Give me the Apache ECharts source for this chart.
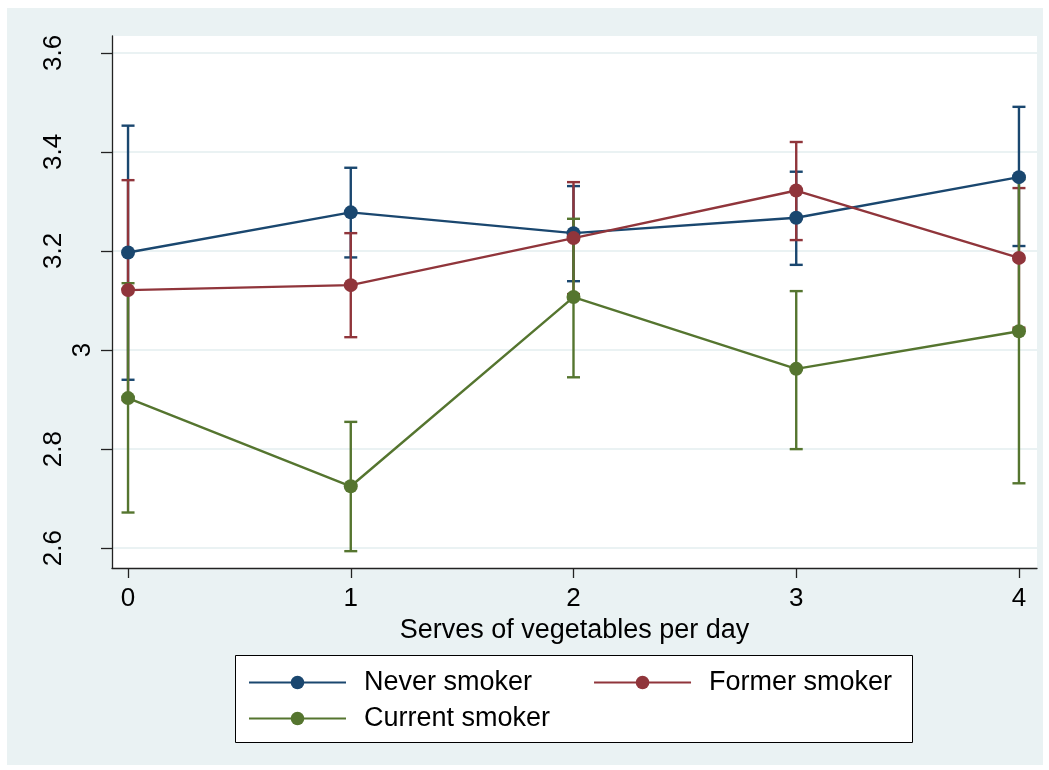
<!DOCTYPE html>
<html>
<head>
<meta charset="utf-8">
<script src="https://cdn.jsdelivr.net/npm/echarts@6/dist/echarts.min.js"></script>
<style>
  html, body { margin: 0; padding: 0; background: #ffffff; }
  #chart { width: 1049px; height: 770px; }
</style>
</head>
<body>
<div id="chart"></div>
<script>
// Serves of vegetables per day
const servings = [0, 1, 2, 3, 4];
const yTicks = [2.6, 2.8, 3.0, 3.2, 3.4, 3.6];

// Never smoker: mean and 95% CI
const neverMean = [3.197, 3.278, 3.236, 3.267, 3.349];
const neverLow  = [2.940, 3.187, 3.139, 3.172, 3.210];
const neverHigh = [3.453, 3.368, 3.331, 3.360, 3.491];

// Former smoker
const formerMean = [3.121, 3.131, 3.226, 3.322, 3.186];
const formerLow  = [2.899, 3.026, 3.113, 3.222, 3.045];
const formerHigh = [3.343, 3.236, 3.339, 3.420, 3.327];

// Current smoker
const currentMean = [2.903, 2.725, 3.107, 2.962, 3.038];
const currentLow  = [2.672, 2.594, 2.945, 2.800, 2.731];
const currentHigh = [3.135, 2.855, 3.265, 3.119, 3.345];

const groups = [
  { name: 'Never smoker',   color: '#1a476f', mean: neverMean,   low: neverLow,   high: neverHigh },
  { name: 'Former smoker',  color: '#90353b', mean: formerMean,  low: formerLow,  high: formerHigh },
  { name: 'Current smoker', color: '#55752f', mean: currentMean, low: currentLow, high: currentHigh }
];

const FONT = 'Liberation Sans, Arial, sans-serif';
const CAP = 6.5;
const LW = 2.4;

function capRenderer(color) {
  return function (params, api) {
    const x = api.value(0);
    const lo = api.coord([x, api.value(1)]);
    const hi = api.coord([x, api.value(2)]);
    const style = { stroke: color, lineWidth: LW, fill: null };
    return {
      type: 'group',
      children: [
        { type: 'line', shape: { x1: lo[0], y1: lo[1], x2: hi[0], y2: hi[1] }, style },
        { type: 'line', shape: { x1: lo[0] - CAP, y1: lo[1], x2: lo[0] + CAP, y2: lo[1] }, style },
        { type: 'line', shape: { x1: hi[0] - CAP, y1: hi[1], x2: hi[0] + CAP, y2: hi[1] }, style }
      ]
    };
  };
}

const capSeries = groups.map(g => ({
  type: 'custom',
  name: g.name + ' CI',
  renderItem: capRenderer(g.color),
  data: servings.map((x, i) => [x, g.low[i], g.high[i]]),
  z: 2,
  silent: true
}));

const lineSeries = groups.map(g => ({
  type: 'line',
  name: g.name,
  data: servings.map((x, i) => [x, g.mean[i]]),
  symbol: 'circle',
  symbolSize: 14,
  lineStyle: { color: g.color, width: LW },
  itemStyle: { color: g.color },
  z: 3,
  animation: false
}));

const legendText = { fontFamily: FONT, fontSize: 27, color: '#000', padding: [0, 0, 0, 13] };

const chart = echarts.init(document.getElementById('chart'), null, { renderer: 'canvas' });
chart.setOption({
  animation: false,
  backgroundColor: '#ffffff',
  color: groups.map(g => g.color),
  graphic: [
    { type: 'rect', z: -10, silent: true,
      shape: { x: 7, y: 8, width: 1036, height: 757 },
      style: { fill: '#eaf2f3' } },
    { type: 'rect', z: 1, silent: true,
      shape: { x: 235.5, y: 655.5, width: 677, height: 87 },
      style: { fill: '#ffffff', stroke: '#000000', lineWidth: 1 } }
  ],
  grid: {
    left: 112, top: 36, width: 925, height: 532,
    show: true, backgroundColor: '#ffffff', borderWidth: 0, containLabel: false
  },
  legend: [
    {
      data: ['Never smoker', 'Former smoker'],
      left: 248, top: 669, orient: 'horizontal', padding: 0,
      itemWidth: 97, itemHeight: 17, itemGap: 61,
      textStyle: legendText, z: 5
    },
    {
      data: ['Current smoker'],
      left: 248, top: 705, orient: 'horizontal', padding: 0,
      itemWidth: 97, itemHeight: 17,
      textStyle: legendText, z: 5
    }
  ],
  xAxis: {
    type: 'value',
    min: -0.072, max: 4.081,
    name: 'Serves of vegetables per day',
    nameLocation: 'middle',
    nameGap: 45,
    nameTextStyle: { fontFamily: FONT, fontSize: 27, color: '#000' },
    axisLine: { show: true, onZero: false, lineStyle: { color: '#222', width: 1.3 } },
    axisTick: { show: true, length: 10, customValues: servings, lineStyle: { color: '#222', width: 1.3 } },
    axisLabel: { customValues: servings, margin: 18, fontFamily: FONT, fontSize: 26, color: '#000',
      formatter: v => String(v) },
    splitLine: { show: false }
  },
  yAxis: {
    type: 'value',
    min: 2.56, max: 3.634,
    axisLine: { show: true, onZero: false, lineStyle: { color: '#222', width: 1.3 } },
    axisTick: { show: true, length: 11, customValues: yTicks, lineStyle: { color: '#222', width: 1.3 } },
    axisLabel: {
      customValues: yTicks,
      rotate: 90,
      margin: 16,
      fontFamily: FONT, fontSize: 26, color: '#000',
      formatter: v => {
        const s = (Math.round(v * 10) / 10).toString();
        return s === '3' ? '{one|3}' : '{std|' + s + '}';
      },
      rich: {
        one: { fontFamily: FONT, fontSize: 26, color: '#000' },
        std: { fontFamily: FONT, fontSize: 26, color: '#000', padding: [0, 0, 29, 0] }
      }
    },
    splitLine: { show: true, lineStyle: { color: '#eaf2f3', width: 2 } }
  },
  series: [...capSeries, ...lineSeries]
});
</script>
</body>
</html>
